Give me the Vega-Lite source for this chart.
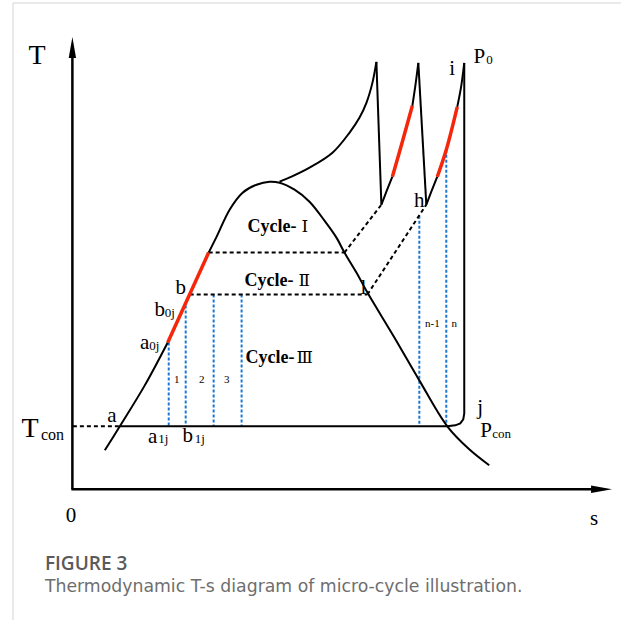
{
  "$schema": "https://vega.github.io/schema/vega-lite/v6.json",
  "width": 622,
  "height": 621,
  "autosize": {"type": "fit", "contains": "padding"},
  "padding": 0,
  "background": "white",
  "config": {"view": {"stroke": null}},
  "datasets": {
    "border": [
      {"s": -60, "T": 487, "s2": -60, "T2": -131},
      {"s": -60, "T": 487, "s2": 549, "T2": 487}
    ],
    "axes": [
      {"s": -0.5, "T": 0, "s2": -0.5, "T2": 434},
      {"s": -1.5, "T": 0, "s2": 521, "T2": 0}
    ],
    "arrowUp": [{"s": -0.5, "T": 442.5}],
    "arrowRight": [{"s": 529.5, "T": 0}],
    "dashed": [
      {"s": 0, "T": 63, "s2": 47, "T2": 63},
      {"s": 136, "T": 237, "s2": 272, "T2": 237},
      {"s": 272, "T": 237, "s2": 309, "T2": 285},
      {"s": 117, "T": 195, "s2": 295, "T2": 195},
      {"s": 295, "T": 195, "s2": 354, "T2": 285}
    ],
    "blue": [
      {"s": 96, "T": 147, "s2": 96, "T2": 63},
      {"s": 113, "T": 184, "s2": 113, "T2": 63},
      {"s": 141, "T": 195, "s2": 141, "T2": 63},
      {"s": 169, "T": 195, "s2": 169, "T2": 63},
      {"s": 347, "T": 274, "s2": 347, "T2": 63},
      {"s": 374, "T": 340, "s2": 374, "T2": 63}
    ],
    "blackCurves": [
      {"seg": "dome-left", "s": 32, "T": 39},
      {"seg": "dome-left", "s": 47, "T": 63},
      {"seg": "dome-left", "s": 72, "T": 104},
      {"seg": "dome-left", "s": 95, "T": 147},
      {"seg": "dome", "s": 136, "T": 237},
      {"seg": "dome", "s": 144, "T": 253},
      {"seg": "dome", "s": 157, "T": 280},
      {"seg": "dome", "s": 170, "T": 297},
      {"seg": "dome", "s": 184, "T": 305},
      {"seg": "dome", "s": 197, "T": 308},
      {"seg": "dome", "s": 207, "T": 307},
      {"seg": "dome", "s": 222, "T": 300},
      {"seg": "dome", "s": 237, "T": 288},
      {"seg": "dome", "s": 252, "T": 269},
      {"seg": "dome", "s": 264, "T": 252},
      {"seg": "dome", "s": 272, "T": 237},
      {"seg": "dome", "s": 284, "T": 217},
      {"seg": "dome", "s": 295, "T": 197},
      {"seg": "dome", "s": 322, "T": 152},
      {"seg": "dome", "s": 347, "T": 109},
      {"seg": "dome", "s": 375, "T": 63},
      {"seg": "dome", "s": 397, "T": 40},
      {"seg": "dome", "s": 417, "T": 24},
      {"seg": "sh1", "s": 207, "T": 308},
      {"seg": "sh1", "s": 219, "T": 313},
      {"seg": "sh1", "s": 237, "T": 322},
      {"seg": "sh1", "s": 260, "T": 337},
      {"seg": "sh1", "s": 277, "T": 357},
      {"seg": "sh1", "s": 287, "T": 372},
      {"seg": "sh1", "s": 294, "T": 387},
      {"seg": "sh1", "s": 300, "T": 407},
      {"seg": "sh1", "s": 304, "T": 428},
      {"seg": "sh2a", "s": 309, "T": 285},
      {"seg": "sh2a", "s": 314, "T": 298},
      {"seg": "sh2a", "s": 320, "T": 313},
      {"seg": "sh2b", "s": 340, "T": 384},
      {"seg": "sh2b", "s": 343, "T": 404},
      {"seg": "sh2b", "s": 346, "T": 427},
      {"seg": "sh3a", "s": 354, "T": 285},
      {"seg": "sh3a", "s": 359, "T": 298},
      {"seg": "sh3a", "s": 365, "T": 313},
      {"seg": "sh3b", "s": 385, "T": 383},
      {"seg": "sh3b", "s": 389, "T": 404},
      {"seg": "sh3b", "s": 392, "T": 427}
    ],
    "polylines": [
      {"seg": "drop1", "s": 304, "T": 428},
      {"seg": "drop1", "s": 309, "T": 285},
      {"seg": "drop2", "s": 346, "T": 427},
      {"seg": "drop2", "s": 354, "T": 285},
      {"seg": "pcon", "s": 392, "T": 427},
      {"seg": "pcon", "s": 392, "T": 76},
      {"seg": "pcon", "s": 391, "T": 70},
      {"seg": "pcon", "s": 388, "T": 66},
      {"seg": "pcon", "s": 383, "T": 64},
      {"seg": "pcon", "s": 375, "T": 63},
      {"seg": "pcon", "s": 47, "T": 63}
    ],
    "redCurves": [
      {"seg": "r1", "s": 95, "T": 147},
      {"seg": "r1", "s": 136, "T": 237},
      {"seg": "r2", "s": 320, "T": 313},
      {"seg": "r2", "s": 330, "T": 348},
      {"seg": "r2", "s": 340, "T": 384},
      {"seg": "r3", "s": 365, "T": 313},
      {"seg": "r3", "s": 374, "T": 340},
      {"seg": "r3", "s": 385, "T": 383}
    ],
    "bigLabels": [
      {"s": -36, "T": 434, "label": "T"},
      {"s": -43, "T": 60, "label": "T"}
    ],
    "labels": [
      {"s": -2, "T": -27, "label": "0"},
      {"s": 522, "T": -30, "label": "s"},
      {"s": 39, "T": 73, "label": "a"},
      {"s": 80, "T": 52, "label": "a"},
      {"s": 115, "T": 53, "label": "b"},
      {"s": 108, "T": 202, "label": "b"},
      {"s": 87, "T": 179, "label": "b"},
      {"s": 72, "T": 146, "label": "a"},
      {"s": 291, "T": 202, "label": "l"},
      {"s": 347, "T": 289, "label": "h"},
      {"s": 380, "T": 421, "label": "i"},
      {"s": 407, "T": 433, "label": "P"},
      {"s": 408, "T": 81, "label": "j"},
      {"s": 414, "T": 58, "label": "P"}
    ],
    "subsBig": [
      {"s": -32, "T": 54, "label": "con"}
    ],
    "subs": [
      {"s": 85.5, "T": 50, "label": "1j"},
      {"s": 122, "T": 50, "label": "1j"},
      {"s": 92, "T": 176, "label": "0j"},
      {"s": 76.5, "T": 143, "label": "0j"},
      {"s": 414, "T": 430, "label": "0"},
      {"s": 420, "T": 55, "label": "con"}
    ],
    "small": [
      {"s": 104, "T": 109, "label": "1"},
      {"s": 129, "T": 109, "label": "2"},
      {"s": 154, "T": 109, "label": "3"},
      {"s": 360, "T": 165, "label": "n-1"},
      {"s": 382, "T": 165, "label": "n"}
    ],
    "cycles": [
      {"s": 224, "sn": 229, "T": 263, "word": "Cycle-", "num": "Ⅰ"},
      {"s": 221, "sn": 226, "T": 209, "word": "Cycle-", "num": "Ⅱ"},
      {"s": 222, "sn": 224, "T": 131, "word": "Cycle-", "num": "Ⅲ"}
    ],
    "captionTitle": [{"s": -28, "T": -75, "label": "FIGURE 3"}],
    "captionText": [{"s": -28, "T": -98, "label": "Thermodynamic T-s diagram of micro-cycle illustration."}]
  },
  "encoding": {
    "x": {"field": "s", "type": "quantitative", "axis": null, "scale": {"domain": [-73, 549], "nice": false, "zero": false}},
    "y": {"field": "T", "type": "quantitative", "axis": null, "scale": {"domain": [-131, 490], "nice": false, "zero": false}}
  },
  "layer": [
    {"data": {"name": "border"}, "mark": {"type": "rule", "color": "#d4d4d4", "strokeWidth": 1}, "encoding": {"x2": {"field": "s2"}, "y2": {"field": "T2"}}},
    {"data": {"name": "blue"}, "mark": {"type": "rule", "color": "#1a78d4", "strokeWidth": 2, "strokeDash": [3, 2]}, "encoding": {"x2": {"field": "s2"}, "y2": {"field": "T2"}}},
    {"data": {"name": "dashed"}, "mark": {"type": "rule", "color": "black", "strokeWidth": 2, "strokeDash": [4, 3]}, "encoding": {"x2": {"field": "s2"}, "y2": {"field": "T2"}}},
    {"data": {"name": "blackCurves"}, "mark": {"type": "line", "color": "black", "strokeWidth": 2, "interpolate": "catmull-rom"}, "encoding": {"detail": {"field": "seg"}, "order": {"value": null}}},
    {"data": {"name": "polylines"}, "mark": {"type": "line", "color": "black", "strokeWidth": 2, "interpolate": "linear"}, "encoding": {"detail": {"field": "seg"}, "order": {"value": null}}},
    {"data": {"name": "redCurves"}, "mark": {"type": "line", "color": "#f5260a", "strokeWidth": 3.5, "interpolate": "catmull-rom"}, "encoding": {"detail": {"field": "seg"}, "order": {"value": null}}},
    {"data": {"name": "axes"}, "mark": {"type": "rule", "color": "black", "strokeWidth": 2.5}, "encoding": {"x2": {"field": "s2"}, "y2": {"field": "T2"}}},
    {"data": {"name": "arrowUp"}, "mark": {"type": "point", "shape": "M0,-1L0.35,1L-0.35,1Z", "size": 441, "filled": true, "color": "black", "opacity": 1, "strokeWidth": 0}},
    {"data": {"name": "arrowRight"}, "mark": {"type": "point", "shape": "M1,0L-1,-0.35L-1,0.35Z", "size": 441, "filled": true, "color": "black", "opacity": 1, "strokeWidth": 0}},
    {"data": {"name": "bigLabels"}, "mark": {"type": "text", "font": "Liberation Serif", "fontSize": 28, "align": "center", "baseline": "middle", "color": "black"}, "encoding": {"text": {"field": "label"}}},
    {"data": {"name": "labels"}, "mark": {"type": "text", "font": "Liberation Serif", "fontSize": 21, "align": "center", "baseline": "middle", "color": "black"}, "encoding": {"text": {"field": "label"}}},
    {"data": {"name": "subsBig"}, "mark": {"type": "text", "font": "Liberation Serif", "fontSize": 16, "align": "left", "baseline": "middle", "color": "black"}, "encoding": {"text": {"field": "label"}}},
    {"data": {"name": "subs"}, "mark": {"type": "text", "font": "Liberation Serif", "fontSize": 13, "align": "left", "baseline": "middle", "color": "black"}, "encoding": {"text": {"field": "label"}}},
    {"data": {"name": "small"}, "mark": {"type": "text", "font": "Liberation Serif", "fontSize": 11, "align": "center", "baseline": "middle", "color": "black"}, "encoding": {"text": {"field": "label"}}},
    {"data": {"name": "cycles"}, "mark": {"type": "text", "font": "Liberation Serif", "fontSize": 18, "fontWeight": "bold", "align": "right", "baseline": "middle", "color": "black"}, "encoding": {"text": {"field": "word"}}},
    {"data": {"name": "cycles"}, "mark": {"type": "text", "font": "DejaVu Serif", "fontSize": 17, "fontWeight": "normal", "align": "left", "baseline": "middle", "color": "black"}, "encoding": {"x": {"field": "sn", "type": "quantitative"}, "text": {"field": "num"}}},
    {"data": {"name": "captionTitle"}, "mark": {"type": "text", "font": "Open Sans", "fontSize": 19, "fontWeight": 600, "align": "left", "baseline": "middle", "color": "#5a5a5a"}, "encoding": {"text": {"field": "label"}}},
    {"data": {"name": "captionText"}, "mark": {"type": "text", "font": "DejaVu Sans", "fontSize": 17.3, "align": "left", "baseline": "middle", "color": "#6e6e6e"}, "encoding": {"text": {"field": "label"}}}
  ]
}
